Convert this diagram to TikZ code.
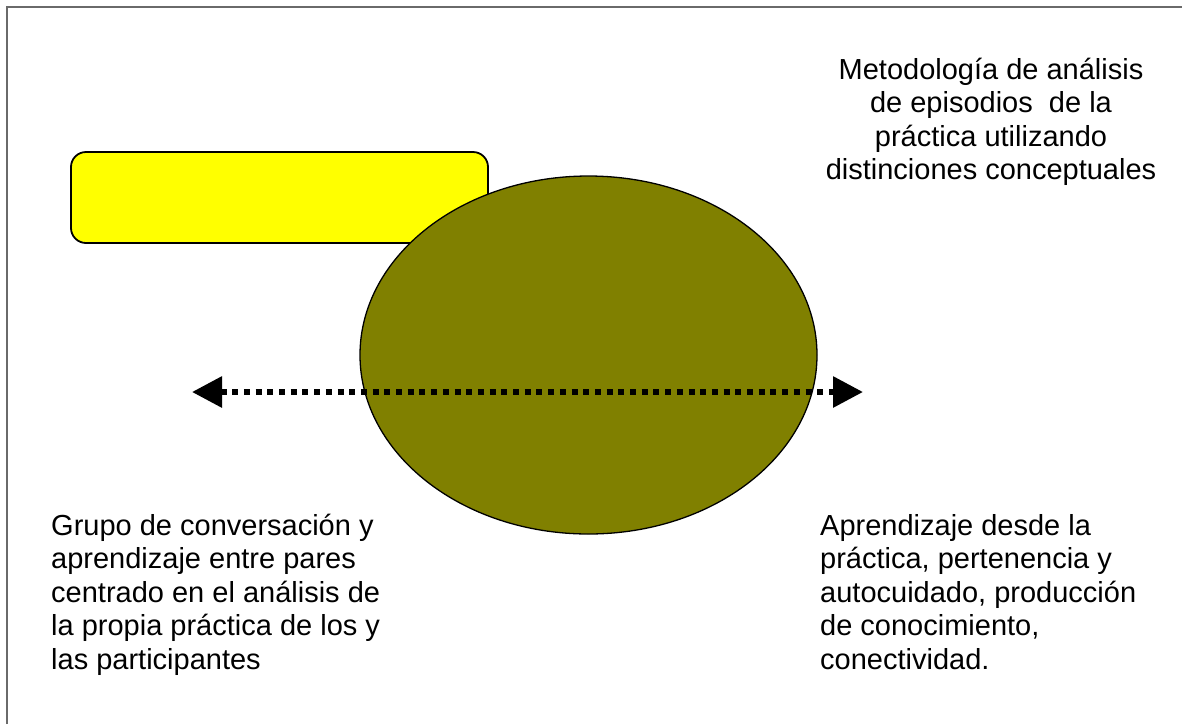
\documentclass[tikz,border=0pt]{standalone}
\usepackage{fontspec}
\setmainfont{Liberation Sans}
\usetikzlibrary{shapes.geometric,arrows.meta}
\definecolor{oliva}{HTML}{808000}
\definecolor{amarillo}{HTML}{FFFF00}
\definecolor{marco}{HTML}{6A6A6A}
\begin{document}
\begin{tikzpicture}[x=1pt,y=-1pt,
  caja/.style={draw=black,line width=1.8pt,fill=amarillo,rounded corners=15pt,
    minimum width=417pt,minimum height=91pt,inner sep=0pt},
  ovalo/.style={ellipse,draw=black,line width=1.3pt,fill=oliva,
    minimum width=457pt,minimum height=358pt,inner sep=0pt},
  texto/.style={inner sep=0pt,font=\fontsize{29}{33.5}\selectfont},
  flecha/.style={line width=6pt,dash pattern=on 6pt off 5.7pt,
    {Triangle[length=30pt,width=30pt]}-{Triangle[length=30pt,width=30pt]}}]
  \useasboundingbox (0,0) rectangle (1182,724);
  \draw[marco,line width=2pt] (7,724) -- (7,7) -- (1182,7);
  \node[caja] (rect) at (279.5,197.5) {};
  \node[ovalo] (circulo) at (588.5,355) {};
  \coordinate (izq) at (192,392);
  \coordinate (der) at (863,392);
  \draw[flecha] (izq) -- (der);
  \node[texto,align=center,anchor=north] (metodo) at (991,49)
    {\rule{0pt}{30pt}Metodología de análisis\\de episodios\ \ de la\\práctica\ utilizando\\distinciones conceptuales};
  \node[texto,align=left,anchor=north west] (grupo) at (51,505)
    {\rule{0pt}{30pt}Grupo de conversación y\\aprendizaje entre pares\\centrado en el análisis de\\la propia práctica de los y\\las participantes};
  \node[texto,align=left,anchor=north west] (aprend) at (820,505)
    {\rule{0pt}{30pt}Aprendizaje desde la\\práctica, pertenencia y\\autocuidado, producción\\de conocimiento,\\conectividad.};
\end{tikzpicture}
\end{document}
